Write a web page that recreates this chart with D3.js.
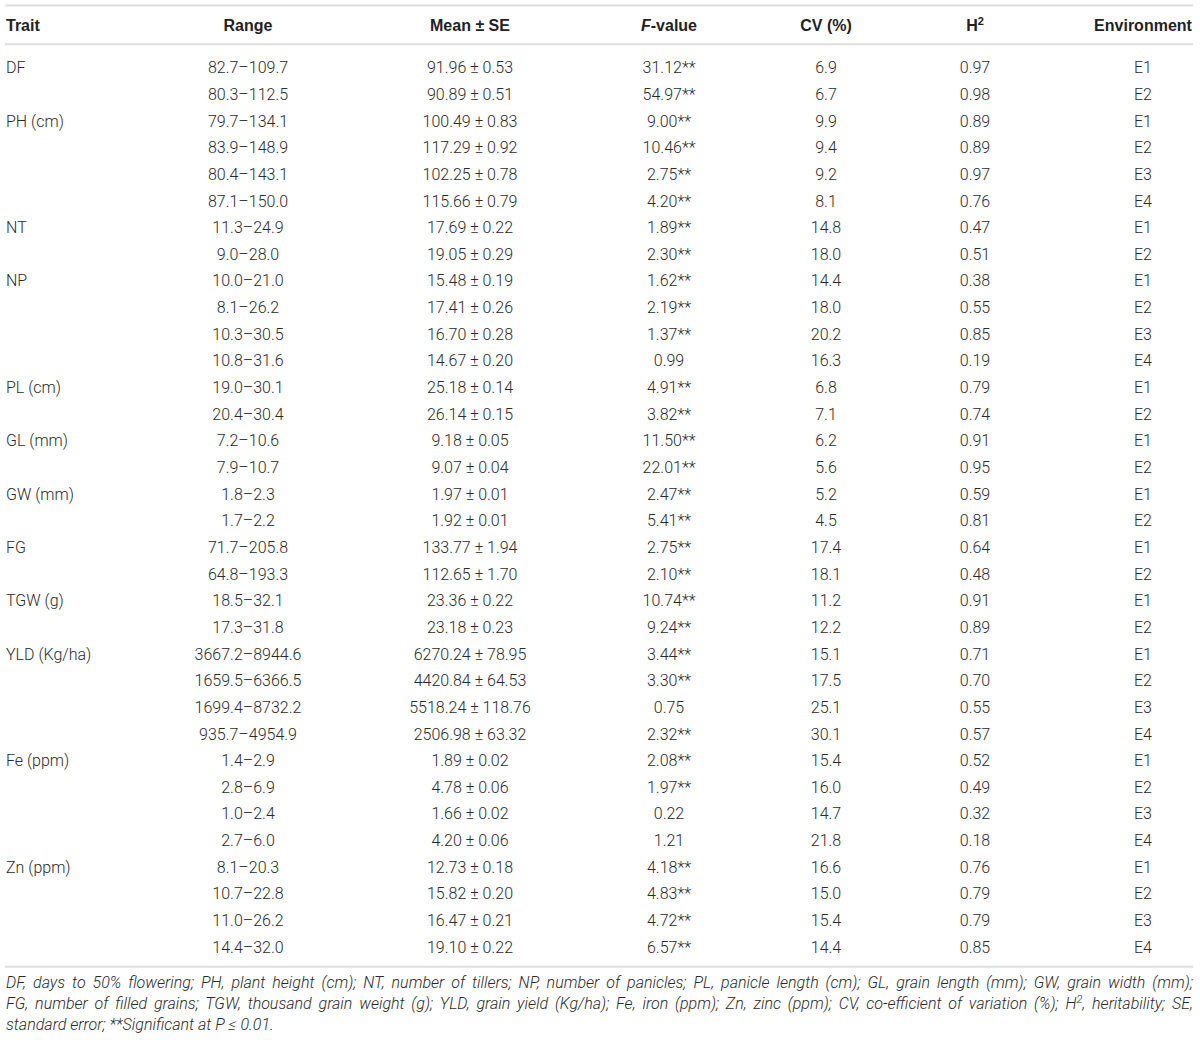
<!DOCTYPE html>
<html>
<head>
<meta charset="utf-8">
<script src="https://cdnjs.cloudflare.com/ajax/libs/d3/7.8.5/d3.min.js"></script>
<style>
  body { margin: 0; background: #fff; }
  svg text { font-family: Roboto, "Liberation Sans", Arial, sans-serif; }
  svg g.head text { font-family: "Liberation Sans", Arial, sans-serif; }
</style>
</head>
<body>
<div id="table_div"></div>
<script>
// table values, one array per column
const traits = ["DF", "", "PH (cm)", "", "", "", "NT", "", "NP", "", "", "", "PL (cm)", "",
  "GL (mm)", "", "GW (mm)", "", "FG", "", "TGW (g)", "", "YLD (Kg/ha)", "", "", "",
  "Fe (ppm)", "", "", "", "Zn (ppm)", "", "", ""];

const ranges = ["82.7–109.7", "80.3–112.5", "79.7–134.1", "83.9–148.9", "80.4–143.1", "87.1–150.0",
  "11.3–24.9", "9.0–28.0", "10.0–21.0", "8.1–26.2", "10.3–30.5", "10.8–31.6", "19.0–30.1", "20.4–30.4",
  "7.2–10.6", "7.9–10.7", "1.8–2.3", "1.7–2.2", "71.7–205.8", "64.8–193.3", "18.5–32.1", "17.3–31.8",
  "3667.2–8944.6", "1659.5–6366.5", "1699.4–8732.2", "935.7–4954.9", "1.4–2.9", "2.8–6.9", "1.0–2.4",
  "2.7–6.0", "8.1–20.3", "10.7–22.8", "11.0–26.2", "14.4–32.0"];

const means = ["91.96 ± 0.53", "90.89 ± 0.51", "100.49 ± 0.83", "117.29 ± 0.92", "102.25 ± 0.78",
  "115.66 ± 0.79", "17.69 ± 0.22", "19.05 ± 0.29", "15.48 ± 0.19", "17.41 ± 0.26", "16.70 ± 0.28",
  "14.67 ± 0.20", "25.18 ± 0.14", "26.14 ± 0.15", "9.18 ± 0.05", "9.07 ± 0.04", "1.97 ± 0.01",
  "1.92 ± 0.01", "133.77 ± 1.94", "112.65 ± 1.70", "23.36 ± 0.22", "23.18 ± 0.23", "6270.24 ± 78.95",
  "4420.84 ± 64.53", "5518.24 ± 118.76", "2506.98 ± 63.32", "1.89 ± 0.02", "4.78 ± 0.06",
  "1.66 ± 0.02", "4.20 ± 0.06", "12.73 ± 0.18", "15.82 ± 0.20", "16.47 ± 0.21", "19.10 ± 0.22"];

const fvalues = ["31.12**", "54.97**", "9.00**", "10.46**", "2.75**", "4.20**", "1.89**", "2.30**",
  "1.62**", "2.19**", "1.37**", "0.99", "4.91**", "3.82**", "11.50**", "22.01**", "2.47**", "5.41**",
  "2.75**", "2.10**", "10.74**", "9.24**", "3.44**", "3.30**", "0.75", "2.32**", "2.08**", "1.97**",
  "0.22", "1.21", "4.18**", "4.83**", "4.72**", "6.57**"];

const cvs = ["6.9", "6.7", "9.9", "9.4", "9.2", "8.1", "14.8", "18.0", "14.4", "18.0", "20.2", "16.3",
  "6.8", "7.1", "6.2", "5.6", "5.2", "4.5", "17.4", "18.1", "11.2", "12.2", "15.1", "17.5", "25.1",
  "30.1", "15.4", "16.0", "14.7", "21.8", "16.6", "15.0", "15.4", "14.4"];

const h2s = ["0.97", "0.98", "0.89", "0.89", "0.97", "0.76", "0.47", "0.51", "0.38", "0.55", "0.85",
  "0.19", "0.79", "0.74", "0.91", "0.95", "0.59", "0.81", "0.64", "0.48", "0.91", "0.89", "0.71",
  "0.70", "0.55", "0.57", "0.52", "0.49", "0.32", "0.18", "0.76", "0.79", "0.79", "0.85"];

const envs = ["E1", "E2", "E1", "E2", "E3", "E4", "E1", "E2", "E1", "E2", "E3", "E4", "E1", "E2",
  "E1", "E2", "E1", "E2", "E1", "E2", "E1", "E2", "E1", "E2", "E3", "E4", "E1", "E2", "E3", "E4",
  "E1", "E2", "E3", "E4"];

const columns = ["trait", "range", "mean", "f", "cv", "h2", "env"];

const footnoteLines = [
  "DF, days to 50% flowering; PH, plant height (cm); NT, number of tillers; NP, number of panicles; PL, panicle length (cm); GL, grain length (mm); GW, grain width (mm);",
  "FG, number of filled grains; TGW, thousand grain weight (g); YLD, grain yield (Kg/ha); Fe, iron (ppm); Zn, zinc (ppm); CV, co-efficient of variation (%); H|2|, heritability; SE,",
  "standard error; **Significant at P ≤ 0.01."
];

// page layout
const width = 1200, height = 1040;
const left = 6, right = 1193;

const svg = d3.select("#table_div").append("svg")
  .attr("width", width)
  .attr("height", height);

// column centres (trait is left aligned)
const xCol = d3.scaleOrdinal()
  .domain(columns)
  .range([left, 248, 470, 669, 826, 975, 1143]);

// row baselines
const yRow = d3.scalePoint()
  .domain(d3.range(ranges.length))
  .range([73.3, 952.7]);

const rows = d3.range(ranges.length).map(i => ({
  trait: traits[i], range: ranges[i], mean: means[i], f: fvalues[i],
  cv: cvs[i], h2: h2s[i], env: envs[i]
}));

// rules
[5.5, 44.3, 966.7].forEach(y => {
  svg.append("line")
    .attr("x1", 5).attr("x2", right)
    .attr("y1", y).attr("y2", y)
    .attr("stroke", "#dedede")
    .attr("stroke-width", 2);
});

// header
const header = svg.append("g")
  .attr("class", "head")
  .attr("font-size", 16)
  .attr("font-weight", "bold")
  .attr("fill", "#222");

header.append("text").attr("x", xCol("trait")).attr("y", 30.7).text("Trait");
header.append("text").attr("x", xCol("range")).attr("y", 30.7).attr("text-anchor", "middle").text("Range");
header.append("text").attr("x", xCol("mean")).attr("y", 30.7).attr("text-anchor", "middle").text("Mean ± SE");
let fHead = header.append("text").attr("x", xCol("f")).attr("y", 30.7).attr("text-anchor", "middle");
fHead.append("tspan").attr("font-style", "italic").text("F");
fHead.append("tspan").text("-value");
header.append("text").attr("x", xCol("cv")).attr("y", 30.7).attr("text-anchor", "middle").text("CV (%)");
let hHead = header.append("text").attr("x", xCol("h2")).attr("y", 30.7).attr("text-anchor", "middle");
hHead.append("tspan").text("H");
hHead.append("tspan").attr("font-size", 11).attr("dy", -6).text("2");
header.append("text").attr("x", xCol("env")).attr("y", 30.7).attr("text-anchor", "middle").text("Environment");

// body cells
const body = svg.append("g")
  .attr("font-size", 16)
  .attr("font-weight", 300)
  .attr("fill", "#2a2a2a");

columns.forEach(col => {
  body.selectAll("text." + col)
    .data(rows)
    .enter().append("text")
      .attr("class", col)
      .attr("x", xCol(col))
      .attr("y", (d, i) => yRow(i))
      .attr("text-anchor", col == "trait" ? "start" : "middle")
      .text(d => d[col]);
});

// footnote, first two lines justified
const foot = svg.append("g")
  .attr("font-size", 16)
  .attr("font-style", "italic")
  .attr("font-weight", 300)
  .attr("fill", "#2a2a2a");

footnoteLines.forEach((line, i) => {
  let t = foot.append("text")
    .attr("x", left)
    .attr("y", 987.5 + i * 21);
  line.split("|").forEach((part, j) => {
    if (j % 2 == 1) {
      t.append("tspan").attr("font-size", 11).attr("dy", -6).text(part);
    } else if (j > 0) {
      t.append("tspan").attr("dy", 6).text(part);
    } else {
      t.append("tspan").text(part);
    }
  });
  if (i < 2) {
    let len = t.node().getComputedTextLength();
    let spaces = line.split(" ").length - 1;
    t.attr("word-spacing", ((right - left) - len) / spaces);
  }
});
</script>
</body>
</html>
